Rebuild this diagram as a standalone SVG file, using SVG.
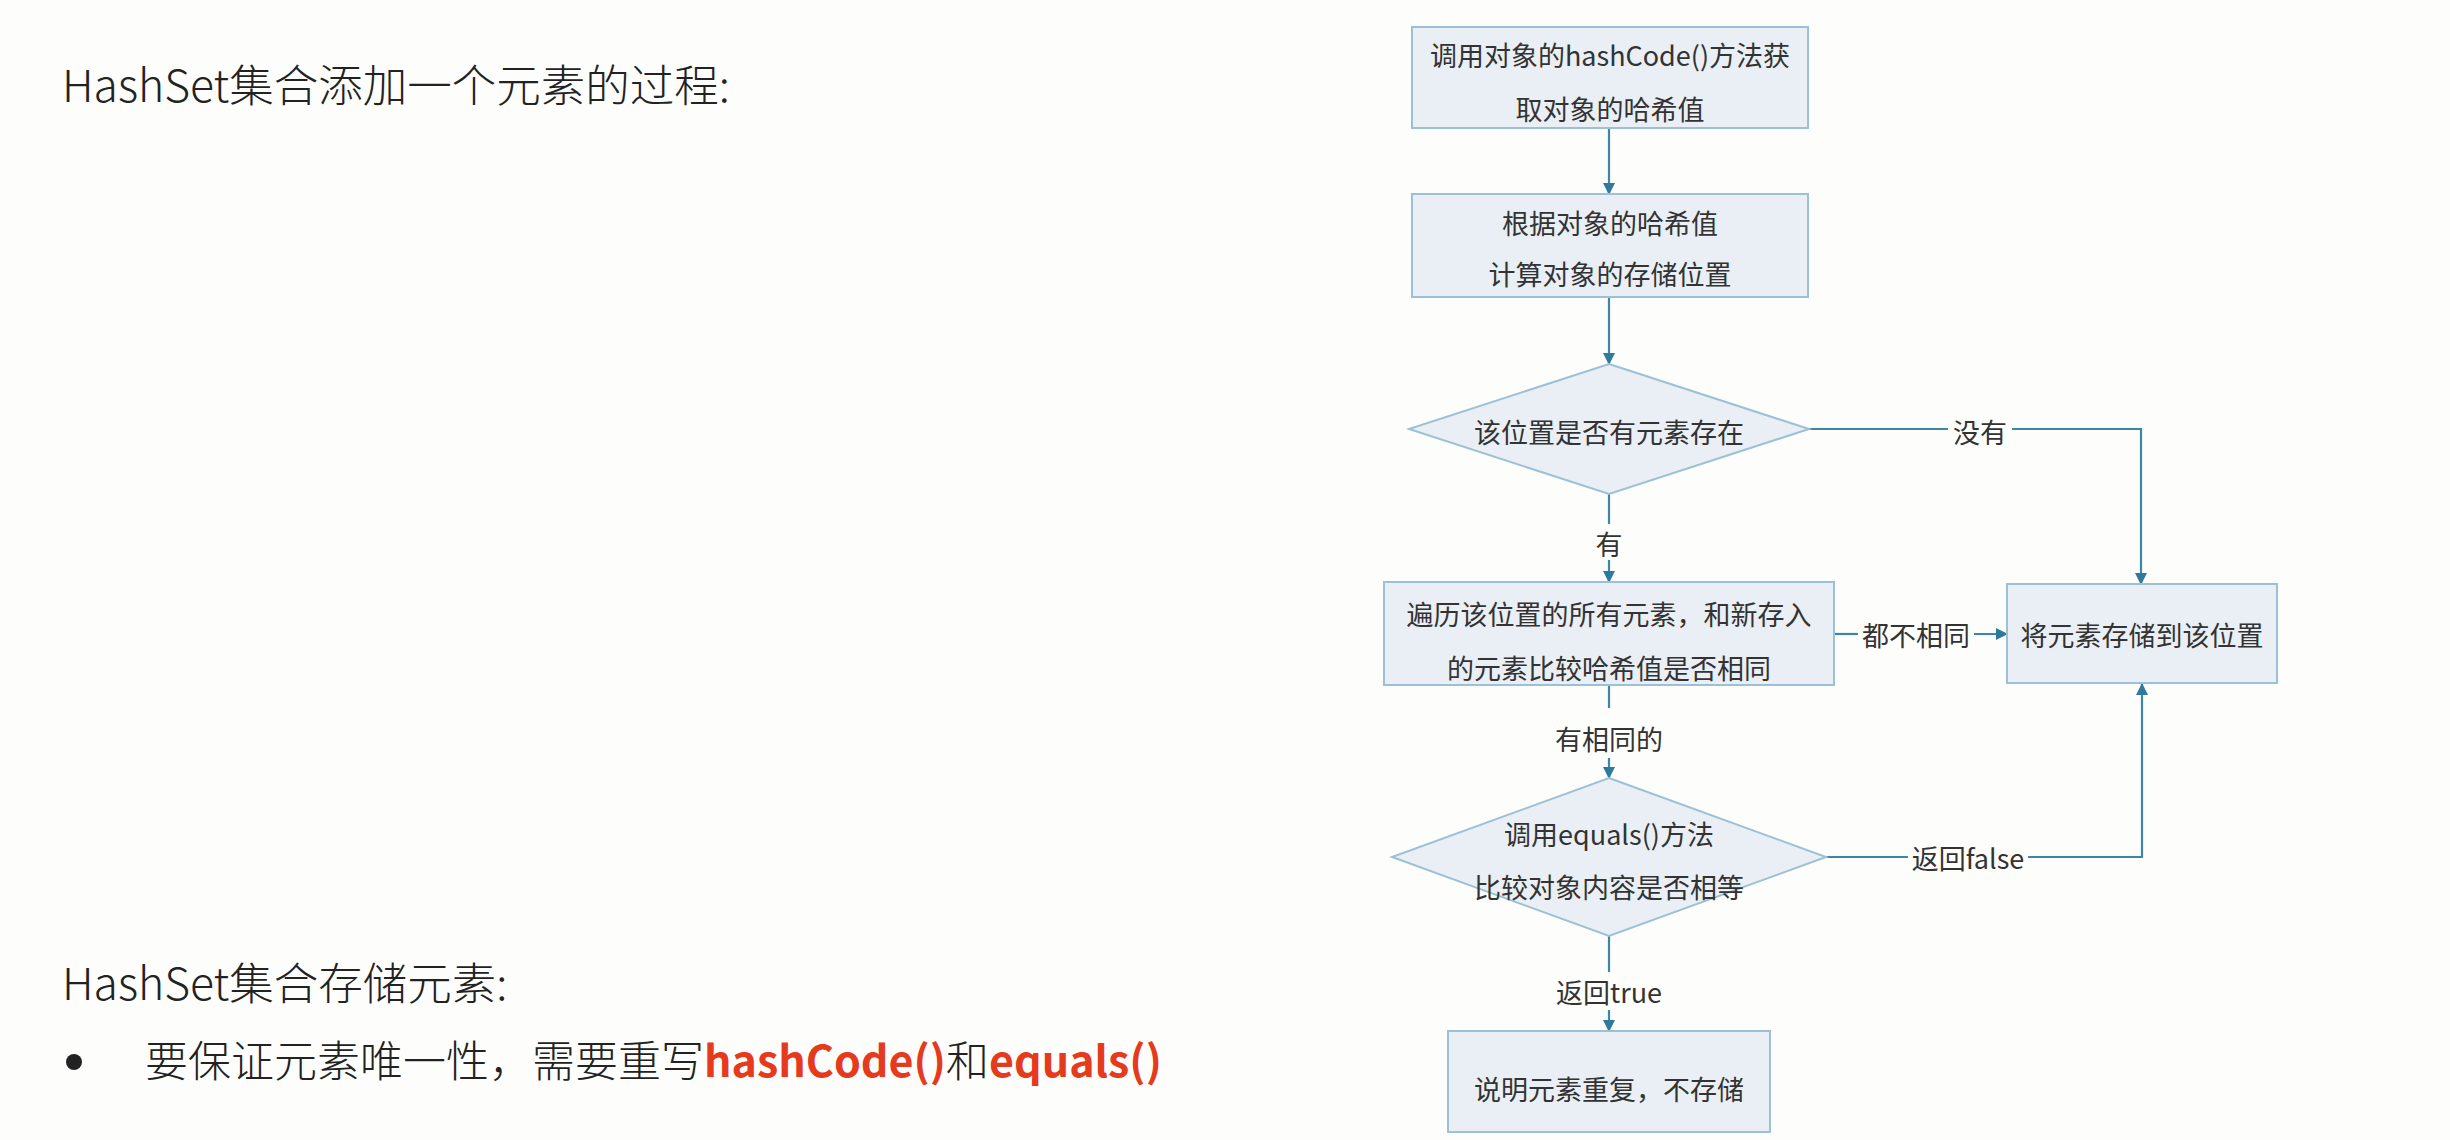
<svg xmlns="http://www.w3.org/2000/svg" width="2450" height="1140" viewBox="0 0 2450 1140">
<defs>
<style>
.bg{fill:#fdfdfb}
.node{fill:#e9eff4;stroke:#9cc1d6;stroke-width:2}
.nt{font-family:"Noto Sans CJK SC","Noto Sans",sans-serif;font-size:27px;fill:#333;text-anchor:middle;dominant-baseline:central}
.lbl{font-family:"Noto Sans CJK SC","Noto Sans",sans-serif;font-size:27px;fill:#333;text-anchor:middle;dominant-baseline:central}
.edge{fill:none;stroke:#3d86a8;stroke-width:2.2}
.side{font-family:"Noto Sans CJK SC","Noto Sans",sans-serif;font-size:44.5px;fill:#222;font-weight:300}
.red{fill:#e53a1d;font-weight:bold}
</style>
<marker id="arr" viewBox="0 0 12 12" refX="11" refY="6" markerWidth="12" markerHeight="12" markerUnits="userSpaceOnUse" orient="auto">
<path d="M0,0 L12,6 L0,12 z" fill="#2f7a9a"/>
</marker>
</defs>
<rect class="bg" x="0" y="0" width="2450" height="1140"/>

<g id="text-left">
<text class="side" x="62" y="102">HashSet集合添加一个元素的过程:</text>
<text class="side" x="62" y="1000">HashSet集合存储元素:</text>
<circle cx="74" cy="1062" r="8" fill="#222"/>
<text class="side" x="145" y="1077" style="font-size:43px">要保证元素唯一性，需要重写<tspan class="red">hashCode()</tspan>和<tspan class="red">equals()</tspan></text>
</g>

<g id="connectors">
<line class="edge" x1="1609" y1="128" x2="1609" y2="194" marker-end="url(#arr)"/>
<line class="edge" x1="1609" y1="297" x2="1609" y2="364" marker-end="url(#arr)"/>
<line class="edge" x1="1609" y1="494" x2="1609" y2="524"/>
<line class="edge" x1="1609" y1="560" x2="1609" y2="582" marker-end="url(#arr)"/>
<polyline class="edge" points="1809,429 1948,429"/>
<polyline class="edge" points="2012,429 2141,429 2141,584" marker-end="url(#arr)"/>
<line class="edge" x1="1834" y1="634" x2="1858" y2="634"/>
<line class="edge" x1="1974" y1="634" x2="2007" y2="634" marker-end="url(#arr)"/>
<line class="edge" x1="1609" y1="685" x2="1609" y2="708"/>
<line class="edge" x1="1609" y1="758" x2="1609" y2="778" marker-end="url(#arr)"/>
<line class="edge" x1="1826" y1="857" x2="1908" y2="857"/>
<polyline class="edge" points="2028,857 2142,857 2142,684" marker-end="url(#arr)"/>
<line class="edge" x1="1609" y1="936" x2="1609" y2="972"/>
<line class="edge" x1="1609" y1="1010" x2="1609" y2="1031" marker-end="url(#arr)"/>
<text class="lbl" x="1609" y="543">有</text>
<text class="lbl" x="1980" y="431">没有</text>
<text class="lbl" x="1916" y="634">都不相同</text>
<text class="lbl" x="1609" y="738">有相同的</text>
<text class="lbl" x="1968" y="857">返回false</text>
<text class="lbl" x="1609" y="991">返回true</text>
</g>

<g id="n1">
<rect class="node" x="1412" y="27" width="396" height="101"/>
<text class="nt" x="1610" y="54">调用对象的hashCode()方法获</text>
<text class="nt" x="1610" y="108">取对象的哈希值</text>
</g>
<g id="n2">
<rect class="node" x="1412" y="194" width="396" height="103"/>
<text class="nt" x="1610" y="222">根据对象的哈希值</text>
<text class="nt" x="1610" y="273">计算对象的存储位置</text>
</g>
<g id="d1">
<polygon class="node" points="1609,364 1809,429 1609,494 1409,429"/>
<text class="nt" x="1609" y="431">该位置是否有元素存在</text>
</g>
<g id="n3">
<rect class="node" x="1384" y="582" width="450" height="103"/>
<text class="nt" x="1609" y="613">遍历该位置的所有元素，和新存入</text>
<text class="nt" x="1609" y="667">的元素比较哈希值是否相同</text>
</g>
<g id="n4">
<rect class="node" x="2007" y="584" width="270" height="99"/>
<text class="nt" x="2142" y="634">将元素存储到该位置</text>
</g>
<g id="d2">
<polygon class="node" points="1609,778 1826,857 1609,936 1392,857"/>
<text class="nt" x="1609" y="833">调用equals()方法</text>
<text class="nt" x="1609" y="886">比较对象内容是否相等</text>
</g>
<g id="n5">
<rect class="node" x="1448" y="1031" width="322" height="101"/>
<text class="nt" x="1609" y="1088">说明元素重复，不存储</text>
</g>
</svg>
